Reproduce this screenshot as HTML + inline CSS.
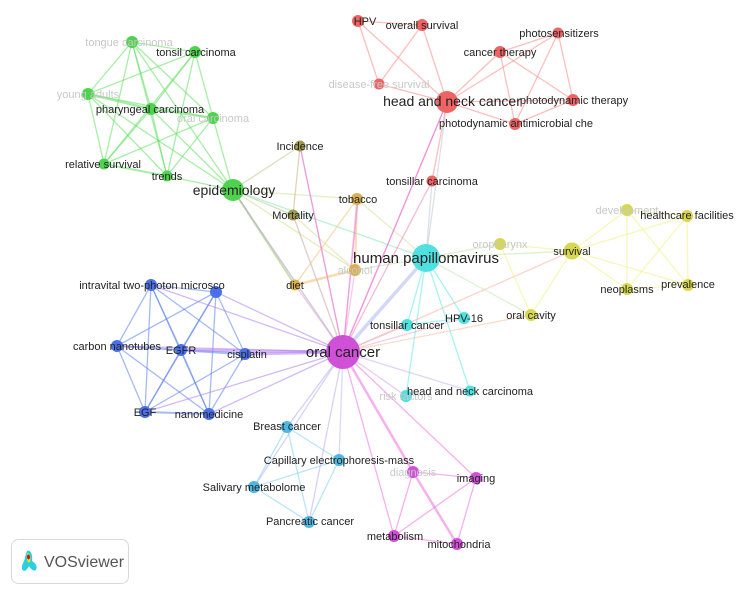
<!DOCTYPE html>
<html><head><meta charset="utf-8"><style>
html,body{margin:0;padding:0;background:#fff;}
svg{display:block;font-family:"Liberation Sans",sans-serif;}
text{font-size:11px;fill:#222;}
.f{fill:#c8c8c8;}
</style></head><body>
<svg width="743" height="596" viewBox="0 0 743 596">
<g stroke-width="1.3" fill="none" stroke-opacity="0.55">
<!-- green -->
<g stroke="#5de05d">
<line x1="132" y1="42" x2="195" y2="52"/><line x1="132" y1="42" x2="88" y2="94"/><line x1="132" y1="42" x2="151" y2="109"/><line x1="132" y1="42" x2="213" y2="118"/><line x1="132" y1="42" x2="104" y2="164"/><line x1="132" y1="42" x2="167" y2="176"/><line x1="132" y1="42" x2="233" y2="190"/>
<line x1="195" y1="52" x2="88" y2="94"/><line x1="195" y1="52" x2="151" y2="109"/><line x1="195" y1="52" x2="213" y2="118"/><line x1="195" y1="52" x2="104" y2="164"/><line x1="195" y1="52" x2="167" y2="176"/>
<line x1="88" y1="94" x2="151" y2="109" stroke-width="2.5"/><line x1="88" y1="94" x2="213" y2="118"/><line x1="88" y1="94" x2="104" y2="164"/><line x1="88" y1="94" x2="167" y2="176"/><line x1="88" y1="94" x2="233" y2="190"/>
<line x1="151" y1="109" x2="213" y2="118" stroke-width="2"/><line x1="151" y1="109" x2="104" y2="164"/><line x1="151" y1="109" x2="167" y2="176"/><line x1="151" y1="109" x2="233" y2="190"/>
<line x1="213" y1="118" x2="104" y2="164"/><line x1="213" y1="118" x2="167" y2="176"/><line x1="213" y1="118" x2="233" y2="190"/>
<line x1="104" y1="164" x2="167" y2="176" stroke-width="2"/><line x1="167" y1="176" x2="233" y2="190"/>
<line x1="233" y1="190" x2="300" y2="146" stroke="#b9c98a"/><line x1="233" y1="190" x2="293" y2="215" stroke="#b9c98a"/><line x1="233" y1="190" x2="357" y2="199" stroke="#c9e08a"/><line x1="233" y1="190" x2="426" y2="258" stroke="#7fe8b0"/><line x1="233" y1="190" x2="355" y2="270" stroke="#c9e08a"/><line x1="233" y1="190" x2="295" y2="285" stroke="#a0c070" stroke-width="2"/><line x1="233" y1="190" x2="343" y2="352" stroke="#9fa0c0"/>
</g>
<!-- olive/orange -->
<g stroke="#c9b27a">
<line x1="300" y1="146" x2="293" y2="215"/><line x1="300" y1="146" x2="343" y2="352" stroke="#d8a8c0"/><line x1="293" y1="215" x2="343" y2="352" stroke="#c8a0a0"/><line x1="293" y1="215" x2="355" y2="270" stroke="#d8d890"/>
<line x1="357" y1="199" x2="295" y2="285" stroke="#f0c070"/><line x1="357" y1="199" x2="355" y2="270" stroke="#f0c070" stroke-width="2"/><line x1="357" y1="199" x2="426" y2="258" stroke="#d8e0a0"/><line x1="355" y1="270" x2="295" y2="285" stroke="#f0c070" stroke-width="2.5"/><line x1="355" y1="270" x2="426" y2="258" stroke="#b8e0b0"/><line x1="295" y1="285" x2="343" y2="352" stroke="#e0a0c0"/><line x1="357" y1="199" x2="343" y2="352" stroke="#f0a0d0"/><line x1="355" y1="270" x2="343" y2="352" stroke="#f0a0d0"/>
</g>
<!-- red -->
<g stroke="#f88">
<line x1="358" y1="21" x2="422" y2="25"/><line x1="358" y1="21" x2="379" y2="84"/><line x1="358" y1="21" x2="447" y2="102"/><line x1="422" y1="25" x2="379" y2="84"/><line x1="422" y1="25" x2="447" y2="102"/><line x1="379" y1="84" x2="447" y2="102"/>
<line x1="447" y1="102" x2="500" y2="52"/><line x1="447" y1="102" x2="558" y2="33"/><line x1="447" y1="102" x2="515" y2="124"/><line x1="447" y1="102" x2="573" y2="100"/>
<line x1="500" y1="52" x2="558" y2="33"/><line x1="500" y1="52" x2="573" y2="100"/><line x1="500" y1="52" x2="515" y2="124"/><line x1="558" y1="33" x2="573" y2="100"/><line x1="558" y1="33" x2="515" y2="124"/><line x1="573" y1="100" x2="515" y2="124"/>
<line x1="447" y1="102" x2="432" y2="181"/><line x1="447" y1="102" x2="426" y2="258" stroke="#b8c8d0"/><line x1="447" y1="102" x2="343" y2="352" stroke="#f080c0"/><line x1="432" y1="181" x2="426" y2="258" stroke="#b8c8d0"/><line x1="432" y1="181" x2="343" y2="352" stroke="#f080b0"/>
</g>
<!-- cyan -->
<g stroke="#5ee8e8">
<line x1="426" y1="258" x2="407" y2="325"/><line x1="426" y1="258" x2="464" y2="318"/><line x1="426" y1="258" x2="406" y2="396"/><line x1="426" y1="258" x2="470" y2="391"/><line x1="426" y1="258" x2="343" y2="352" stroke="#b0b8f0" stroke-width="3.5"/><line x1="426" y1="258" x2="500" y2="244" stroke="#c0e8a0"/><line x1="426" y1="258" x2="572" y2="251" stroke="#c0e8a0"/><line x1="426" y1="258" x2="531" y2="315" stroke="#c0e8b0"/>
<line x1="407" y1="325" x2="464" y2="318"/><line x1="343" y1="352" x2="464" y2="318" stroke="#f0a8c0"/><line x1="343" y1="352" x2="407" y2="325" stroke="#f0a0d0"/><line x1="343" y1="352" x2="470" y2="391" stroke="#c8b0f0"/><line x1="343" y1="352" x2="406" y2="396" stroke="#d8a0f0"/><line x1="343" y1="352" x2="531" y2="315" stroke="#f8c0a0"/><line x1="343" y1="352" x2="572" y2="251" stroke="#f8b0a0"/>
</g>
<!-- yellow -->
<g stroke="#f0f080">
<line x1="500" y1="244" x2="572" y2="251"/><line x1="500" y1="244" x2="531" y2="315"/><line x1="572" y1="251" x2="531" y2="315"/><line x1="572" y1="251" x2="627" y2="210"/><line x1="572" y1="251" x2="687" y2="216"/><line x1="572" y1="251" x2="627" y2="289"/><line x1="572" y1="251" x2="688" y2="285"/>
<line x1="627" y1="210" x2="687" y2="216"/><line x1="627" y1="210" x2="627" y2="289"/><line x1="627" y1="210" x2="688" y2="285"/><line x1="687" y1="216" x2="627" y2="289"/><line x1="687" y1="216" x2="688" y2="285"/><line x1="627" y1="289" x2="688" y2="285"/>
</g>
<!-- blue -->
<g stroke="#5b7ff0">
<line x1="151" y1="285" x2="216" y2="292"/><line x1="151" y1="285" x2="117" y2="346"/><line x1="151" y1="285" x2="181" y2="350"/><line x1="151" y1="285" x2="245" y2="354"/><line x1="151" y1="285" x2="145" y2="412"/><line x1="151" y1="285" x2="209" y2="414"/>
<line x1="216" y1="292" x2="117" y2="346"/><line x1="216" y1="292" x2="181" y2="350"/><line x1="216" y1="292" x2="245" y2="354"/><line x1="216" y1="292" x2="145" y2="412"/><line x1="216" y1="292" x2="209" y2="414"/>
<line x1="117" y1="346" x2="181" y2="350" stroke-width="2"/><line x1="117" y1="346" x2="145" y2="412"/><line x1="117" y1="346" x2="209" y2="414"/><line x1="181" y1="350" x2="245" y2="354" stroke-width="2.5"/><line x1="181" y1="350" x2="145" y2="412"/><line x1="181" y1="350" x2="209" y2="414"/>
<line x1="245" y1="354" x2="145" y2="412"/><line x1="245" y1="354" x2="209" y2="414"/><line x1="145" y1="412" x2="209" y2="414" stroke-width="2"/>
<g stroke="#b080f0"><line x1="151" y1="285" x2="343" y2="352"/><line x1="216" y1="292" x2="343" y2="352"/><line x1="181" y1="350" x2="343" y2="352" stroke-width="3"/><line x1="245" y1="354" x2="343" y2="352" stroke-width="3"/><line x1="145" y1="412" x2="343" y2="352"/><line x1="209" y1="414" x2="343" y2="352"/><line x1="117" y1="346" x2="343" y2="352"/></g>
</g>
<!-- light blue -->
<g stroke="#7fd0f0">
<line x1="287" y1="427" x2="339" y2="460"/><line x1="287" y1="427" x2="254" y2="487"/><line x1="287" y1="427" x2="309" y2="522"/><line x1="339" y1="460" x2="254" y2="487"/><line x1="339" y1="460" x2="309" y2="522"/><line x1="254" y1="487" x2="309" y2="522"/>
<line x1="343" y1="352" x2="287" y2="427" stroke="#b0a8f0"/><line x1="343" y1="352" x2="254" y2="487" stroke="#b0b0f0"/><line x1="343" y1="352" x2="339" y2="460" stroke="#c0b8f0"/><line x1="343" y1="352" x2="309" y2="522" stroke="#c0a8f0"/>
</g>
<!-- magenta -->
<g stroke="#f070e0">
<line x1="343" y1="352" x2="413" y2="472" stroke-width="2.5"/><line x1="343" y1="352" x2="476" y2="478"/><line x1="343" y1="352" x2="394" y2="536"/><line x1="413" y1="472" x2="476" y2="478"/><line x1="413" y1="472" x2="394" y2="536"/><line x1="413" y1="472" x2="457" y2="544" stroke-width="2.5"/><line x1="476" y1="478" x2="394" y2="536"/><line x1="476" y1="478" x2="457" y2="544"/><line x1="394" y1="536" x2="457" y2="544"/>
<line x1="343" y1="352" x2="300" y2="146"/><line x1="343" y1="352" x2="358" y2="199"/><line x1="343" y1="352" x2="447" y2="102"/>
</g>
</g>
<!-- nodes -->
<g>
<g fill="#4fd34f"><circle cx="132" cy="42" r="6"/><circle cx="195" cy="52" r="6"/><circle cx="88" cy="94" r="6"/><circle cx="151" cy="109" r="6"/><circle cx="213" cy="118" r="6"/><circle cx="104" cy="164" r="5.5"/><circle cx="167" cy="176" r="5.5"/><circle cx="233" cy="190" r="11"/></g>
<g fill="#a09a50"><circle cx="300" cy="146" r="5.5"/><circle cx="293" cy="215" r="5.5"/></g>
<g fill="#d8b050"><circle cx="357" cy="199" r="6"/><circle cx="355" cy="270" r="6"/><circle cx="295" cy="285" r="5.5"/></g>
<g fill="#ee6464"><circle cx="358" cy="21" r="6"/><circle cx="422" cy="25" r="6"/><circle cx="379" cy="84" r="5.5"/><circle cx="447" cy="102" r="11"/><circle cx="500" cy="52" r="6"/><circle cx="558" cy="33" r="5.5"/><circle cx="573" cy="100" r="6"/><circle cx="515" cy="124" r="6"/><circle cx="432" cy="181" r="5.5"/></g>
<g fill="#4fe0e0"><circle cx="426" cy="258" r="14"/><circle cx="407" cy="325" r="6"/><circle cx="464" cy="318" r="6"/><circle cx="406" cy="396" r="6"/><circle cx="470" cy="391" r="5.5"/></g>
<g fill="#d8d850"><circle cx="500" cy="244" r="6"/><circle cx="572" cy="251" r="8.5"/><circle cx="627" cy="210" r="6"/><circle cx="687" cy="216" r="6"/><circle cx="627" cy="289" r="6"/><circle cx="688" cy="285" r="6"/><circle cx="531" cy="315" r="6"/></g>
<g fill="#4a6fe8"><circle cx="151" cy="285" r="6"/><circle cx="216" cy="292" r="6"/><circle cx="117" cy="346" r="6"/><circle cx="181" cy="350" r="6"/><circle cx="245" cy="354" r="6"/><circle cx="145" cy="412" r="6"/><circle cx="209" cy="414" r="6"/></g>
<g fill="#50b8e0"><circle cx="287" cy="427" r="6"/><circle cx="339" cy="460" r="6"/><circle cx="254" cy="487" r="6"/><circle cx="309" cy="522" r="6"/></g>
<g fill="#d050d8"><circle cx="343" cy="352" r="17"/><circle cx="413" cy="472" r="6"/><circle cx="476" cy="478" r="6"/><circle cx="394" cy="536" r="6"/><circle cx="457" cy="544" r="6"/></g>
</g>
<!-- labels -->
<g text-anchor="middle">
<text x="129" y="46" class="f">tongue carcinoma</text>
<text x="196" y="56">tonsil carcinoma</text>
<text x="88" y="98" class="f">young adults</text>
<text x="150" y="113">pharyngeal carcinoma</text>
<text x="213" y="122" class="f">oral carcinoma</text>
<text x="103" y="168">relative survival</text>
<text x="167" y="180">trends</text>
<text x="234" y="195" style="font-size:14px">epidemiology</text>
<text x="300" y="150">Incidence</text>
<text x="293" y="219">Mortality</text>
<text x="358" y="203">tobacco</text>
<text x="355" y="274" class="f">alcohol</text>
<text x="295" y="289">diet</text>
<text x="365" y="25">HPV</text>
<text x="422" y="29">overall survival</text>
<text x="379" y="88" class="f">disease-free survival</text>
<text x="452" y="106" style="font-size:14px">head and neck cancer</text>
<text x="500" y="56">cancer therapy</text>
<text x="559" y="37">photosensitizers</text>
<text x="574" y="104">photodynamic therapy</text>
<text x="516" y="127">photodynamic antimicrobial che</text>
<text x="432" y="185">tonsillar carcinoma</text>
<text x="426" y="263" style="font-size:15px">human papillomavirus</text>
<text x="407" y="329">tonsillar cancer</text>
<text x="464" y="322">HPV-16</text>
<text x="406" y="400" class="f">risk factors</text>
<text x="470" y="395">head and neck carcinoma</text>
<text x="500" y="248" class="f">oropharynx</text>
<text x="572" y="255">survival</text>
<text x="627" y="214" class="f">development</text>
<text x="687" y="219">healthcare facilities</text>
<text x="627" y="293">neoplasms</text>
<text x="688" y="288">prevalence</text>
<text x="531" y="319">oral cavity</text>
<text x="152" y="289">intravital two-photon microsco</text>
<text x="117" y="350">carbon nanotubes</text>
<text x="181" y="354">EGFR</text>
<text x="247" y="358">cisplatin</text>
<text x="145" y="416">EGF</text>
<text x="209" y="418">nanomedicine</text>
<text x="343" y="357" style="font-size:15px">oral cancer</text>
<text x="287" y="430">Breast cancer</text>
<text x="339" y="464">Capillary electrophoresis-mass</text>
<text x="254" y="491">Salivary metabolome</text>
<text x="310" y="525">Pancreatic cancer</text>
<text x="413" y="476" class="f">diagnosis</text>
<text x="476" y="482">imaging</text>
<text x="395" y="540">metabolism</text>
<text x="459" y="548">mitochondria</text>
</g>
<!-- logo -->
<rect x="11.5" y="539.5" width="117" height="44" rx="7" fill="#fff" stroke="#d8d8d8"/>
<path d="M27 551 C31 549 33 556 32 561 C35 563 38 566 36 570 C33 572 30 568 29 566 C27 570 24 573 22 569 C21 565 25 561 25 557 Z" fill="#2ad0e0"/>
<path d="M27.5 553 C30 553 31 558 30 562 C28 564 26 560 27.5 553 Z" fill="#f0e020"/>
<ellipse cx="28.5" cy="557" rx="1.5" ry="2.5" fill="#d01010"/>
<text x="44" y="567" style="font-size:16px;fill:#555">VOSviewer</text>
</svg>
</body></html>
